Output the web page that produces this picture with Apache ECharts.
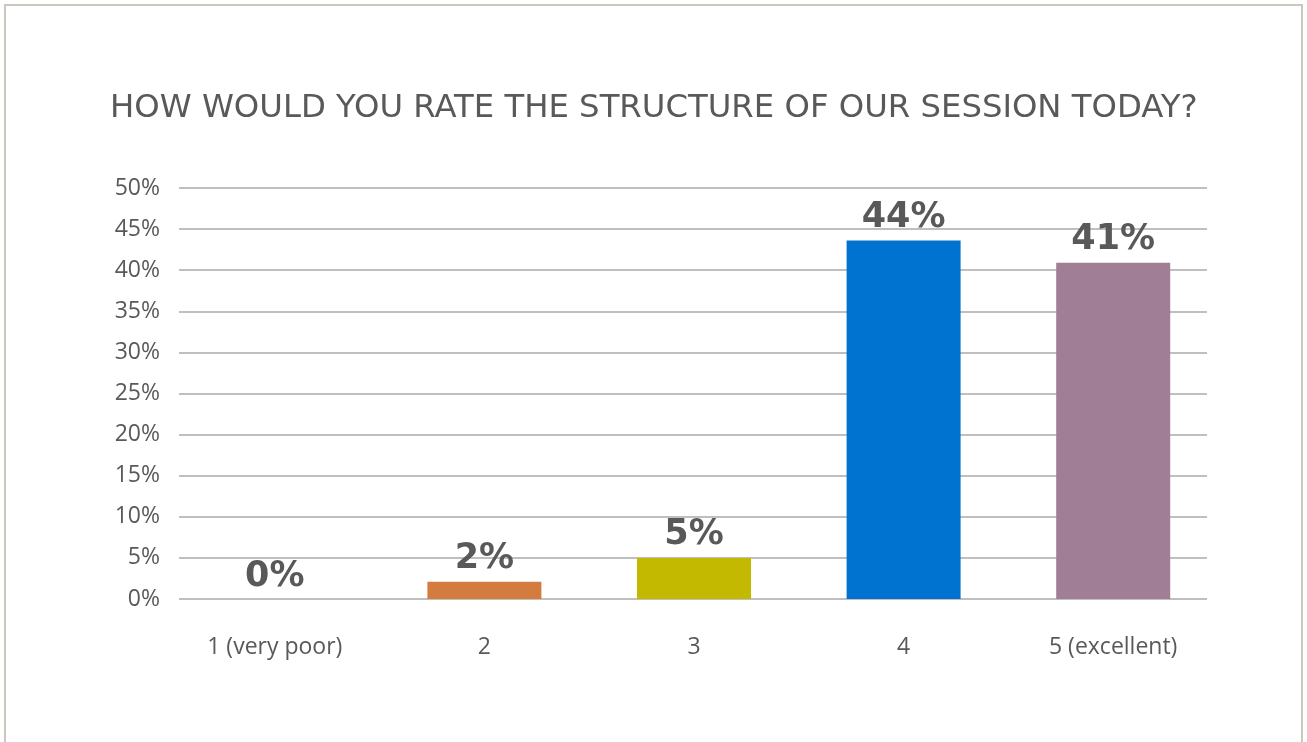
<!DOCTYPE html>
<html>
<head>
<meta charset="utf-8">
<script src="https://cdn.jsdelivr.net/npm/echarts@6/dist/echarts.min.js"></script>
<style>
  html, body { margin: 0; padding: 0; background: #fff; }
  #frame {
    position: absolute; left: 4px; top: 4px; width: 1299px; height: 760px;
    border: 2px solid #cbc7bb; box-sizing: border-box; background: #fff;
  }
  #chart { position: absolute; left: 0; top: 0; width: 1307px; height: 742px; }
</style>
</head>
<body>
<div id="frame"></div>
<div id="chart"></div>
<script>
// Survey responses: share of participants per rating
const categories = ['1 (very poor)', '2', '3', '4', '5 (excellent)'];
const shares = [0, 2.1, 5.0, 43.6, 40.9];
const barColors = ['#d47b40', '#d47b40', '#c2b900', '#0072cf', '#a07e95'];
const titleText = 'HOW WOULD YOU RATE THE STRUCTURE OF OUR SESSION TODAY?';

const textColor = '#595959';
const gridColor = '#bfbfbf';

const chart = echarts.init(document.getElementById('chart'), null, { renderer: 'canvas' });
chart.setOption({
  animation: false,
  title: {
    text: titleText,
    left: 105,
    top: 88,
    textStyle: {
      fontFamily: 'DejaVu Sans',
      fontWeight: 'normal',
      fontSize: 32.3,
      color: textColor
    }
  },
  // grid 0 carries the value scale and gridlines, grid 1 the category bands and bars
  grid: [
    { left: 179, right: 100, top: 188, bottom: 143 },
    { left: 170, right: 89, top: 188, bottom: 143 }
  ],
  xAxis: [
    { type: 'category', gridIndex: 0, data: categories, show: false },
    {
      type: 'category',
      gridIndex: 1,
      data: categories,
      axisLine: { show: false },
      axisTick: { show: false },
      axisLabel: {
        margin: 37,
        fontFamily: 'Open Sans',
        fontSize: 23,
        color: textColor
      }
    }
  ],
  yAxis: [
    {
      type: 'value',
      gridIndex: 0,
      min: 0,
      max: 50,
      interval: 5,
      axisLine: { show: false },
      axisTick: { show: false },
      splitLine: { lineStyle: { color: gridColor, width: 2 } },
      axisLabel: {
        margin: 19,
        formatter: v => v + '%',
        fontFamily: 'Open Sans',
        fontSize: 23,
        color: textColor
      }
    },
    {
      type: 'value',
      gridIndex: 1,
      min: 0,
      max: 50,
      interval: 5,
      show: false,
      splitLine: { show: false }
    }
  ],
  series: [{
    type: 'bar',
    xAxisIndex: 1,
    yAxisIndex: 1,
    barWidth: 114,
    data: shares.map((v, i) => ({ value: v, itemStyle: { color: barColors[i] } })),
    label: {
      show: true,
      position: 'top',
      distance: 5,
      formatter: p => Math.round(p.value) + '%',
      fontFamily: 'DejaVu Sans',
      fontWeight: 'bold',
      fontSize: 35,
      color: textColor
    }
  }]
});
</script>
</body>
</html>
